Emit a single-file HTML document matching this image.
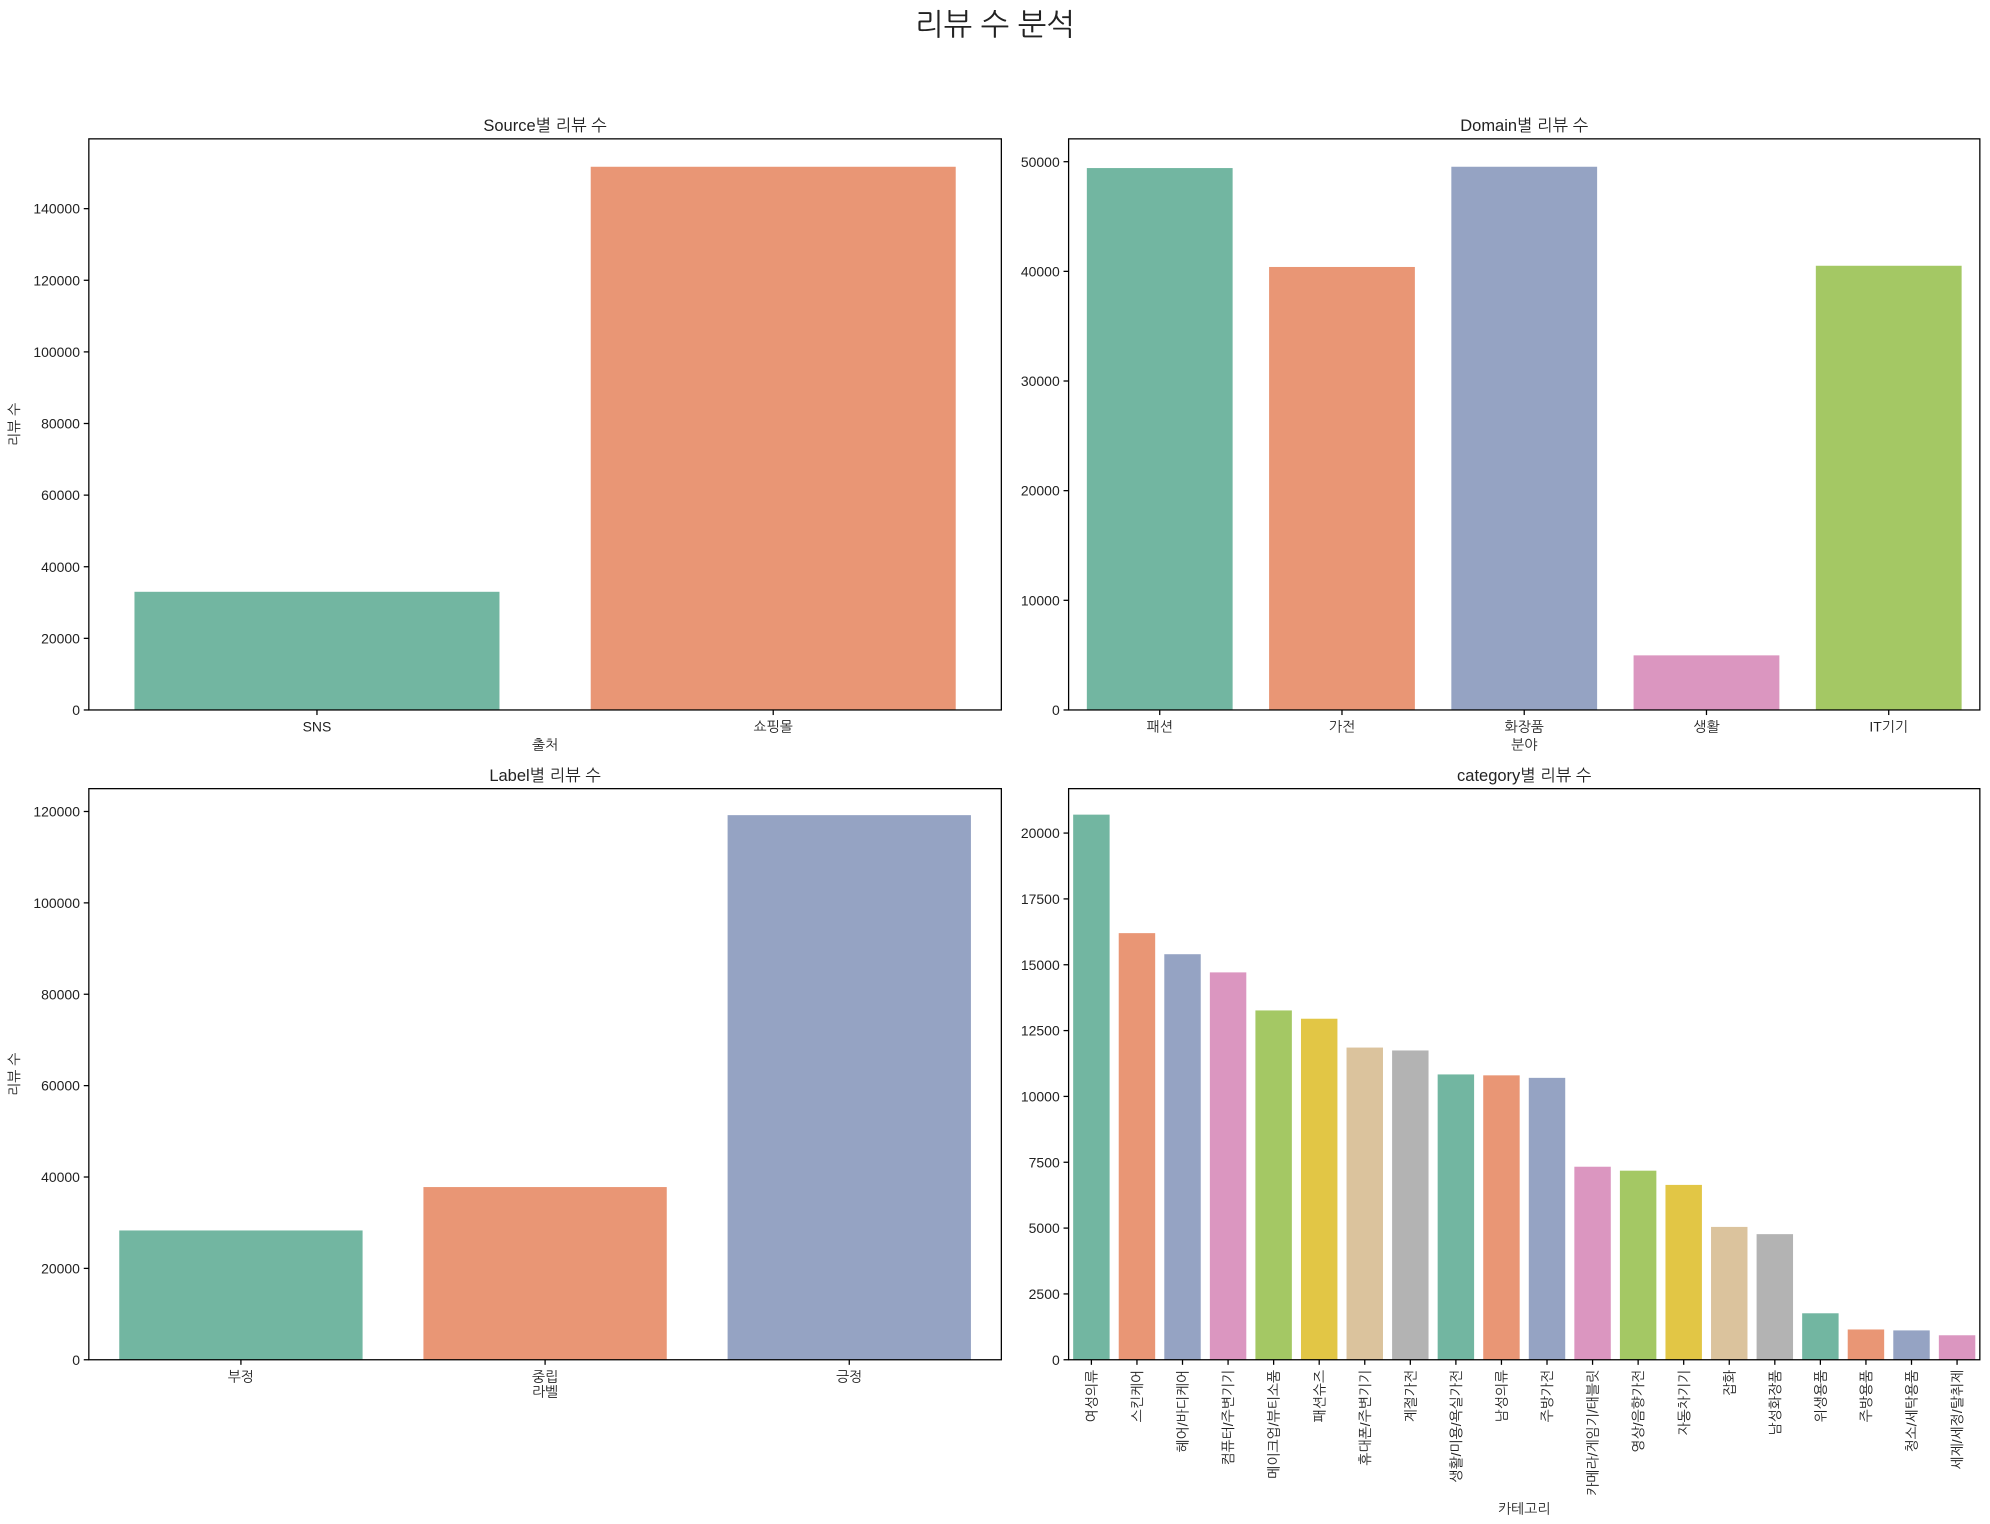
<!DOCTYPE html>
<html><head><meta charset="utf-8">
<style>
html,body{margin:0;padding:0;background:#fff;}
svg{display:block;}
text{font-family:"Liberation Sans","NanumGothic","Noto Sans CJK KR",sans-serif;fill:#222;}
</style></head>
<body>
<svg id="chart" width="1990" height="1524" viewBox="0 0 1568 1200" xmlns="http://www.w3.org/2000/svg">
<text x="784" y="27" text-anchor="middle" font-size="24">리뷰 수 분석</text>
</svg>
<script>
const sourceCats = ["SNS","쇼핑몰"];
const sourceVals = [33000,151700];
const sourceTicks = [0,20000,40000,60000,80000,100000,120000,140000];

const domainCats = ["패션","가전","화장품","생활","IT기기"];
const domainVals = [49420,40400,49540,4980,40510];
const domainTicks = [0,10000,20000,30000,40000,50000];

const labelCats = ["부정","중립","긍정"];
const labelVals = [28300,37800,119200];
const labelTicks = [0,20000,40000,60000,80000,100000,120000];

const categoryCats = ["여성의류","스킨케어","헤어/바디케어","컴퓨터/주변기기","메이크업/뷰티소품","패션슈즈","휴대폰/주변기기","계절가전","생활/미용/욕실가전","남성의류","주방가전","카메라/게임기/태블릿","영상/음향가전","자동차기기","잡화","남성화장품","위생용품","주방용품","청소/세탁용품","세제/세정/탈취제"];
const categoryVals = [20700,16200,15400,14710,13265,12950,11855,11745,10835,10800,10705,7330,7180,6640,5045,4770,1765,1150,1115,930];
const categoryTicks = [0,2500,5000,7500,10000,12500,15000,17500,20000];

const palette = ["#72b6a1","#e99675","#95a3c3","#db96c0","#a4c864","#e2c645","#dbc39d","#b3b3b3"];
const NS = "http://www.w3.org/2000/svg";
const svg = document.getElementById("chart");

function mk(tag, attrs, parent){
  const e = document.createElementNS(NS, tag);
  for (const k in attrs) e.setAttribute(k, attrs[k]);
  (parent||svg).appendChild(e);
  return e;
}

function panel(opt){
  const g = mk("g", {});
  
  
  const x0=opt.x0, x1=opt.x1, y0=opt.y0, y1=opt.y1;
  const ymax = opt.ymax;
  const yScale = v => y1 - (v/ymax)*(y1-y0);
  const n = opt.cats.length;
  const band = (x1-x0)/n;
  const xCenter = i => x0 + band*(i+0.5);
  // bars
  opt.vals.forEach((v,i)=>{
    const r = mk("rect", {x: xCenter(i)-band*0.4, y: yScale(v), width: band*0.8, height: y1-yScale(v), fill: palette[i%palette.length]}, g);
    
    
  });
  // frame
  const fr = mk("rect", {x:x0, y:y0, width:x1-x0, height:y1-y0, fill:"none", stroke:"#000", "stroke-width":1}, g);
  
  
  // y ticks
  opt.ticks.forEach(t=>{
    const y = yScale(t);
    mk("line", {x1:x0-4, x2:x0, y1:y, y2:y, stroke:"#000"}, g);
    const tx = mk("text", {x:x0-7, y:y+4, "text-anchor":"end", "font-size":11}, g);
    tx.textContent = t;
    
    
  });
  // x ticks
  opt.cats.forEach((c,i)=>{
    const x = xCenter(i);
    mk("line", {x1:x, x2:x, y1:y1, y2:y1+4, stroke:"#000"}, g);
    let tx;
    if (opt.rotate){
      tx = mk("text", {x:0, y:0, "text-anchor":"end", "font-size":11, transform:"translate("+(x+4)+","+(y1+8)+") rotate(-90)"}, g);
    } else {
      tx = mk("text", {x:x, y:y1+17, "text-anchor":"middle", "font-size":11}, g);
    }
    tx.textContent = c;
    
    
  });
  const tt = mk("text", {x:(x0+x1)/2, y:y0-6, "text-anchor":"middle", "font-size":13}, g);
  tt.textContent = opt.title;
  
  
  const xl = mk("text", {x:(x0+x1)/2, y:opt.xlabelY, "text-anchor":"middle", "font-size":11}, g);
  xl.textContent = opt.xlabel;
  
  
  if (opt.ylabel){
    const yl = mk("text", {x:0, y:0, "text-anchor":"middle", "font-size":11, transform:"translate(15,"+((y0+y1)/2)+") rotate(-90)"}, g);
    yl.textContent = opt.ylabel;
    
    
  }
}

panel({name:"source-chart", x0:70, x1:789, y0:109, y1:559, ymax:140000*451/395*450/451, cats:sourceCats, vals:sourceVals, ticks:sourceTicks, title:"Source별 리뷰 수", xlabel:"출처", xlabelY:590, ylabel:"리뷰 수"});
panel({name:"domain-chart", x0:842, x1:1560, y0:109, y1:559, ymax:50000*450/432, cats:domainCats, vals:domainVals, ticks:domainTicks, title:"Domain별 리뷰 수", xlabel:"분야", xlabelY:590});
panel({name:"label-chart", x0:70, x1:789, y0:621, y1:1071, ymax:120000*450/432, cats:labelCats, vals:labelVals, ticks:labelTicks, title:"Label별 리뷰 수", xlabel:"라벨", xlabelY:1100, ylabel:"리뷰 수"});
panel({name:"category-chart", x0:842, x1:1560, y0:621, y1:1071, ymax:20000*450/415, cats:categoryCats, vals:categoryVals, ticks:categoryTicks, title:"category별 리뷰 수", xlabel:"카테고리", xlabelY:1192, rotate:true});
</script>
</body></html>
